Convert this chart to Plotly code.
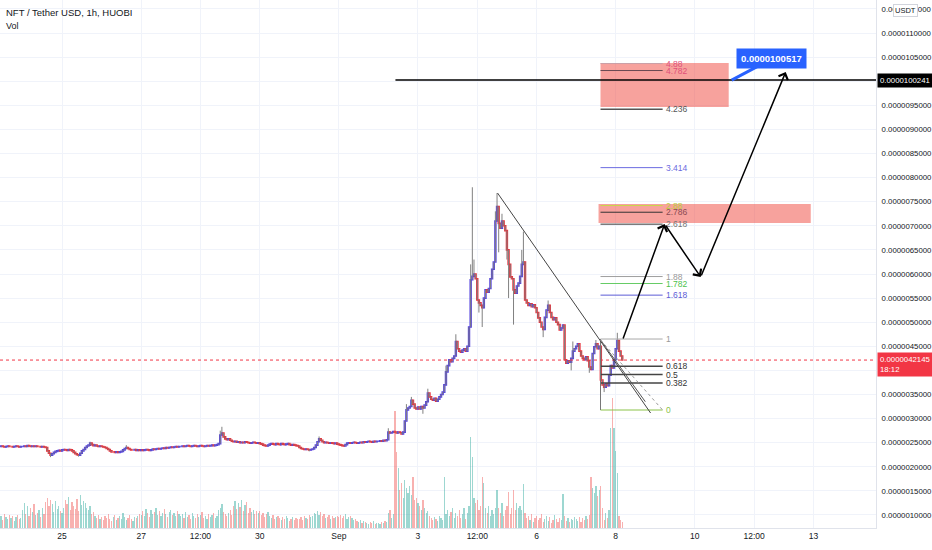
import plotly.graph_objects as go
import pandas as pd

# ---------------- DATA ----------------
start_time = "2021-08-23 10:00"
close_aug23 = [2.42, 2.43, 2.42, 2.41, 2.42, 2.43, 2.42, 2.42, 2.41, 2.42, 2.43, 2.42, 2.41, 2.42]
close_aug24 = [2.42, 2.43, 2.42, 2.44, 2.43, 2.42, 2.43, 2.42, 2.43, 2.42, 2.42, 2.41, 2.42, 2.41, 2.40, 2.33, 2.28, 2.24, 2.27, 2.30, 2.32, 2.33, 2.34, 2.33]
close_aug25 = [2.35, 2.36, 2.35, 2.34, 2.36, 2.35, 2.33, 2.30, 2.27, 2.25, 2.24, 2.28, 2.33, 2.36, 2.40, 2.43, 2.45, 2.49, 2.46, 2.44, 2.45, 2.43, 2.42, 2.43]
close_aug26 = [2.42, 2.41, 2.40, 2.38, 2.36, 2.33, 2.31, 2.31, 2.30, 2.31, 2.30, 2.31, 2.32, 2.35, 2.38, 2.40, 2.38, 2.36, 2.35, 2.35, 2.36, 2.34, 2.35, 2.34]
close_aug27 = [2.35, 2.34, 2.35, 2.36, 2.35, 2.34, 2.35, 2.37, 2.36, 2.37, 2.38, 2.37, 2.38, 2.39, 2.38, 2.40, 2.39, 2.40, 2.41, 2.40, 2.41, 2.42, 2.41, 2.42]
close_aug28 = [2.42, 2.43, 2.42, 2.43, 2.44, 2.43, 2.42, 2.43, 2.44, 2.43, 2.42, 2.43, 2.44, 2.43, 2.42, 2.43, 2.44, 2.43, 2.44, 2.45, 2.44, 2.45, 2.46, 2.48]
close_aug29 = [2.66, 2.70, 2.62, 2.58, 2.56, 2.58, 2.55, 2.53, 2.52, 2.53, 2.51, 2.52, 2.50, 2.51, 2.50, 2.52, 2.51, 2.50, 2.49, 2.50, 2.51, 2.50, 2.49, 2.50]
close_aug30 = [2.48, 2.47, 2.45, 2.44, 2.43, 2.45, 2.47, 2.48, 2.47, 2.46, 2.48, 2.47, 2.46, 2.48, 2.47, 2.46, 2.47, 2.48, 2.46, 2.45, 2.46, 2.45, 2.44, 2.43]
close_aug31 = [2.40, 2.38, 2.37, 2.36, 2.37, 2.36, 2.35, 2.36, 2.37, 2.40, 2.45, 2.52, 2.58, 2.55, 2.52, 2.50, 2.51, 2.50, 2.49, 2.50, 2.49, 2.48, 2.49, 2.47]
close_sep01 = [2.46, 2.45, 2.44, 2.43, 2.46, 2.49, 2.50, 2.49, 2.50, 2.51, 2.50, 2.49, 2.50, 2.51, 2.50, 2.52, 2.51, 2.52, 2.53, 2.52, 2.51, 2.53, 2.52, 2.53]
close_sep02 = [2.53, 2.54, 2.53, 2.55, 2.54, 2.56, 2.72, 2.70, 2.71, 2.73, 2.72, 2.70, 2.72, 2.71, 2.68, 2.72, 2.95, 3.18, 3.22, 3.25, 3.38, 3.30, 3.22, 3.20]
close_sep03 = [3.24, 3.20, 3.25, 3.22, 3.28, 3.35, 3.53, 3.45, 3.40, 3.38, 3.42, 3.36, 3.40, 3.45, 3.50, 3.55, 3.70, 3.97, 4.10, 4.22, 4.18, 4.25, 4.30, 4.60]
close_sep04 = [4.45, 4.40, 4.38, 4.42, 4.45, 4.40, 4.50, 4.90, 5.88, 5.95, 6.00, 5.90, 5.46, 5.40, 5.35, 5.30, 5.50, 5.67, 5.62, 5.70, 5.90, 6.10, 6.25, 7.10]
close_sep05 = [7.40, 7.05, 6.95, 7.10, 7.00, 6.90, 6.50, 6.20, 5.94, 5.90, 5.67, 5.60, 5.75, 5.81, 5.95, 6.20, 6.25, 5.46, 5.40, 5.35, 5.38, 5.32, 5.36, 5.30]
close_sep06 = [5.20, 5.09, 5.00, 4.90, 4.85, 5.10, 5.25, 5.35, 5.20, 5.10, 5.05, 5.09, 5.00, 4.95, 4.84, 4.88, 4.94, 4.22, 4.15, 4.20, 4.17, 4.25, 4.40, 4.45]
close_sep07 = [4.50, 4.55, 4.40, 4.30, 4.25, 4.22, 4.28, 4.20, 4.07, 4.02, 4.35, 4.49, 4.55, 4.45, 4.50, 3.80, 3.70, 3.65, 3.72, 3.68, 3.90, 4.10, 4.05, 4.22]
close_sep08 = [4.45, 4.62, 4.40, 4.30, 4.2145]

vol_aug23 = [10, 12, 8, 14, 11, 9, 13, 10, 12, 7, 11, 13, 9, 10]
vol_aug24 = [18, 25, 14, 22, 12, 20, 16, 24, 13, 15, 18, 11, 20, 14, 26, 30, 22, 28, 24, 16, 27, 19, 22, 17]
vol_aug25 = [15, 20, 28, 24, 31, 18, 26, 22, 19, 29, 17, 33, 23, 27, 25, 20, 18, 22, 14, 16, 12, 10, 13, 9]
vol_aug26 = [11, 8, 12, 10, 14, 9, 7, 11, 13, 8, 10, 12, 9, 15, 11, 8, 10, 13, 9, 7, 11, 10, 12, 14]
vol_aug27 = [13, 17, 12, 19, 15, 11, 18, 14, 16, 20, 13, 17, 12, 15, 19, 14, 11, 16, 18, 13, 15, 12, 17, 14]
vol_aug28 = [12, 14, 10, 16, 11, 13, 9, 15, 12, 10, 14, 11, 13, 16, 10, 12, 9, 14, 11, 13, 15, 10, 12, 18]
vol_aug29 = [20, 24, 16, 14, 12, 15, 18, 13, 22, 27, 19, 25, 21, 28, 17, 23, 26, 15, 20, 16, 18, 14, 17, 15]
vol_aug30 = [17, 13, 15, 11, 14, 16, 12, 10, 13, 9, 11, 12, 10, 8, 11, 9, 12, 10, 7, 9, 11, 8, 10, 9]
vol_aug31 = [9, 11, 8, 12, 10, 9, 13, 11, 12, 15, 14, 17, 13, 16, 12, 14, 10, 11, 13, 9, 12, 10, 11, 12]
vol_sep01 = [11, 13, 10, 12, 14, 9, 11, 12, 10, 8, 9, 7, 6, 8, 5, 7, 6, 5, 4, 6, 5, 7, 4, 5]
vol_sep02 = [5, 4, 6, 5, 7, 6, 15, 18, 10, 14, 117, 76, 60, 38, 45, 30, 48, 40, 35, 42, 33, 51, 28, 30]
vol_sep03 = [25, 22, 18, 28, 20, 15, 17, 12, 10, 8, 11, 9, 7, 12, 10, 8, 51, 14, 18, 12, 16, 20, 10, 15]
vol_sep04 = [12, 18, 10, 14, 20, 9, 15, 22, 91, 71, 30, 25, 28, 18, 22, 51, 45, 20, 15, 22, 12, 18, 14, 20]
vol_sep05 = [38, 20, 15, 25, 12, 18, 22, 36, 14, 20, 38, 18, 25, 20, 22, 18, 44, 15, 10, 12, 8, 14, 6, 10]
vol_sep06 = [12, 8, 10, 14, 6, 9, 12, 7, 11, 5, 8, 13, 9, 6, 10, 8, 34, 12, 7, 10, 6, 9, 8, 11]
vol_sep07 = [9, 7, 11, 6, 10, 8, 12, 9, 13, 51, 40, 35, 42, 32, 38, 42, 20, 8, 15, 10, 18, 100, 130, 100]
vol_sep08 = [77, 55, 12, 8, 6]

wick_high = {
    "2021-08-25 17:00": 2.52, "2021-08-26 15:00": 2.45, "2021-08-29 00:00": 2.75,
    "2021-08-29 01:00": 2.83, "2021-08-31 12:00": 2.63, "2021-09-02 06:00": 2.80,
    "2021-09-02 17:00": 3.30, "2021-09-02 20:00": 3.45, "2021-09-03 06:00": 3.62,
    "2021-09-03 17:00": 4.10, "2021-09-03 23:00": 4.75, "2021-09-04 08:00": 6.20,
    "2021-09-04 09:00": 7.80, "2021-09-04 10:00": 6.30, "2021-09-04 23:00": 7.30,
    "2021-09-05 00:00": 7.68, "2021-09-05 01:00": 7.30, "2021-09-05 03:00": 7.25,
    "2021-09-05 15:00": 6.50, "2021-09-05 16:00": 6.88, "2021-09-06 07:00": 5.45,
    "2021-09-06 22:00": 4.60, "2021-09-07 12:00": 4.63, "2021-09-08 01:00": 4.78,
}
wick_low = {
    "2021-08-24 17:00": 2.20, "2021-08-25 10:00": 2.21, "2021-08-31 06:00": 2.32,
    "2021-09-03 03:00": 3.10, "2021-09-04 13:00": 5.20, "2021-09-04 15:00": 4.90,
    "2021-09-05 01:00": 6.45, "2021-09-05 06:00": 6.30, "2021-09-05 07:00": 5.50,
    "2021-09-05 10:00": 4.95, "2021-09-06 04:00": 4.69, "2021-09-06 21:00": 4.00,
    "2021-09-07 08:00": 3.95, "2021-09-07 17:00": 3.55,
}

price_unit = 1e-6
y_ticks = [1.0, 1.5, 2.0, 2.5, 3.0, 3.5, 4.0, 4.5, 5.0, 5.5, 6.0, 6.5, 7.0, 7.5, 8.0,
           8.5, 9.0, 9.5, 10.0, 10.5, 11.0, 11.5]
x_tick_vals = ["2021-08-25", "2021-08-27", "2021-08-28 12:00", "2021-08-30", "2021-09-01",
               "2021-09-03", "2021-09-04 12:00", "2021-09-06", "2021-09-08", "2021-09-10",
               "2021-09-11 12:00", "2021-09-13"]
x_tick_text = ["25", "27", "12:00", "30", "Sep", "3", "12:00", "6", "8", "10", "12:00", "13"]
x_range = ["2021-08-23 10:20", "2021-09-14 14:00"]
y_range = [0.730, 11.685]

# drawings
hline_start, hline_price = "2021-09-02 10:20", 10.0241
target_price_text = "0.0000100517"
target_box_at = ("2021-09-11 22:40", 10.461)
target_tail_at = ("2021-09-10 22:24", 10.0241)
zone1 = ("2021-09-07 14:48", "2021-09-10 20:36", 9.465, 10.378)
zone2 = ("2021-09-07 13:36", "2021-09-12 22:24", 7.058, 7.452)
fib_t0, fib_t1, fib_label_t = "2021-09-07 14:48", "2021-09-09 04:30", "2021-09-09 05:30"
fib_p0, fib_p1 = 3.178, 4.651
fib_levels = [0, 0.382, 0.5, 0.618, 1, 1.618, 1.782, 1.88, 2.618, 2.786, 2.88, 3.414, 4.236, 4.782, 4.88]
fib_text = ["0", "0.382", "0.5", "0.618", "1", "1.618", "1.782", "1.88", "2.618", "2.786", "2.88", "3.414", "4.236", "4.782", "4.88"]
fib_line_col = ["#8bc34a", "#444444", "#444444", "#444444", "#a8a8a8", "#5c5cd6", "#66cc66", "#9e9e9e",
                "#333333", "#333333", "#c8d84a", "#6b6be0", "#555555", "#6a4a52", "#c9a0a8"]
fib_text_col = ["#8bc34a", "#333333", "#333333", "#333333", "#999999", "#5c5cd6", "#4cc24c", "#999999",
                "#777777", "#8b4a52", "#b8cc3a", "#6b6be0", "#555555", "#e0507a", "#e0507a"]
trend_t = ["2021-09-05 00:18", "2021-09-08 21:12"]
trend_p = [7.680, 3.116]
trend2_t = ["2021-09-07 14:48", "2021-09-08 18:00"]
trend2_p = [4.631, 3.35]
dotted_t = ["2021-09-07 14:48", "2021-09-09 04:30"]
dotted_p = [4.631, 3.178]
path_t = ["2021-09-08 04:12", "2021-09-09 05:42", "2021-09-10 03:36", "2021-09-12 07:12"]
path_p = [4.631, 7.037, 5.938, 10.191]
last_price = 4.2145
last_text = "0.0000042145<br>18:12"
hline_text = "0.0000100241"

# ---------------- BUILD ----------------
closes = (close_aug23 + close_aug24 + close_aug25 + close_aug26 + close_aug27 + close_aug28 +
          close_aug29 + close_aug30 + close_aug31 + close_sep01 + close_sep02 + close_sep03 +
          close_sep04 + close_sep05 + close_sep06 + close_sep07 + close_sep08)
vols = (vol_aug23 + vol_aug24 + vol_aug25 + vol_aug26 + vol_aug27 + vol_aug28 + vol_aug29 +
        vol_aug30 + vol_aug31 + vol_sep01 + vol_sep02 + vol_sep03 + vol_sep04 + vol_sep05 +
        vol_sep06 + vol_sep07 + vol_sep08)
times = pd.date_range(start_time, periods=len(closes), freq="h")
opens = [closes[0]] + closes[:-1]
tkeys = [t.strftime("%Y-%m-%d %H:%M") for t in times]
highs = [max(o, c, wick_high.get(k, 0)) for o, c, k in zip(opens, closes, tkeys)]
lows = [min(o, c, wick_low.get(k, 99)) for o, c, k in zip(opens, closes, tkeys)]
body_hi = [max(o, c) for o, c in zip(opens, closes)]
body_lo = [min(o, c) for o, c in zip(opens, closes)]
U = price_unit

UP, DN = "#5442e0", "#e8323c"
FONT = "Liberation Sans, Arial, sans-serif"

fig = go.Figure()

vol_col = ["rgba(38,166,154,0.45)" if c >= o else "rgba(239,83,80,0.45)" for o, c in zip(opens, closes)]
fig.add_trace(go.Bar(x=times, y=vols, marker=dict(color=vol_col, line=dict(width=0)),
                     width=3600000 * 0.75, yaxis="y2", hoverinfo="skip"))

wx, wy = [], []
for t, h, l in zip(times, highs, lows):
    wx += [t, t, None]
    wy += [l * U, h * U, None]
fig.add_trace(go.Scatter(x=wx, y=wy, mode="lines", line=dict(color="#808080", width=1),
                         hoverinfo="skip"))

fig.add_trace(go.Candlestick(x=times, open=[v * U for v in opens], close=[v * U for v in closes],
                             high=[v * U for v in body_hi], low=[v * U for v in body_lo],
                             increasing=dict(line=dict(color=UP, width=1.6), fillcolor=UP),
                             decreasing=dict(line=dict(color=DN, width=1.6), fillcolor=DN),
                             whiskerwidth=0, hoverinfo="skip"))

shapes = []
shapes.append(dict(type="line", xref="paper", x0=0, x1=1, yref="y", y0=last_price * U, y1=last_price * U,
                   line=dict(color="#f23645", width=1, dash="dot")))
for z in (zone1, zone2):
    shapes.append(dict(type="rect", xref="x", yref="y", x0=z[0], x1=z[1], y0=z[2] * U, y1=z[3] * U,
                       fillcolor="rgba(240,70,60,0.5)", line=dict(width=0)))
shapes.append(dict(type="line", xref="x", yref="y", x0=hline_start, x1=x_range[1],
                   y0=hline_price * U, y1=hline_price * U, line=dict(color="#000000", width=1.5)))
for lv, lc in zip(fib_levels, fib_line_col):
    p = (fib_p0 + lv * (fib_p1 - fib_p0)) * U
    w = 1.5 if lv in (0.382, 0.5, 0.618, 4.236) else 1
    shapes.append(dict(type="line", xref="x", yref="y", x0=fib_t0, x1=fib_t1, y0=p, y1=p,
                       line=dict(color=lc, width=w)))
shapes.append(dict(type="line", xref="x", yref="y", x0=fib_t0, x1=fib_t0, y0=fib_p0 * U, y1=fib_p1 * U,
                   line=dict(color="#777777", width=1)))
shapes.append(dict(type="line", xref="x", yref="y", x0=trend_t[0], x1=trend_t[1],
                   y0=trend_p[0] * U, y1=trend_p[1] * U, line=dict(color="#444444", width=1)))
shapes.append(dict(type="line", xref="x", yref="y", x0=trend2_t[0], x1=trend2_t[1],
                   y0=trend2_p[0] * U, y1=trend2_p[1] * U, line=dict(color="#555555", width=1)))
shapes.append(dict(type="line", xref="x", yref="y", x0=dotted_t[0], x1=dotted_t[1],
                   y0=dotted_p[0] * U, y1=dotted_p[1] * U, line=dict(color="#999999", width=1, dash="dot")))

annotations = []
for lv, txt, tc in zip(fib_levels, fib_text, fib_text_col):
    p = (fib_p0 + lv * (fib_p1 - fib_p0)) * U
    annotations.append(dict(x=fib_label_t, y=p, xref="x", yref="y", text=txt, showarrow=False,
                            xanchor="left", yanchor="middle", font=dict(family=FONT, size=8.5, color=tc)))
for i in range(len(path_t) - 1):
    annotations.append(dict(x=path_t[i + 1], y=path_p[i + 1] * U, ax=path_t[i], ay=path_p[i] * U,
                            xref="x", yref="y", axref="x", ayref="y", text="", showarrow=True,
                            arrowhead=4, arrowsize=1.3, arrowwidth=1.5, arrowcolor="#000000", standoff=0))
annotations.append(dict(x=target_tail_at[0], y=target_tail_at[1] * U, xref="x", yref="y",
                        ax=target_box_at[0], ay=target_box_at[1] * U, axref="x", ayref="y",
                        text="", showarrow=True, arrowhead=0, arrowwidth=3, arrowcolor="#2962ff"))
annotations.append(dict(x=target_box_at[0], y=target_box_at[1] * U, xref="x", yref="y",
                        text="<b>" + target_price_text + "</b>", showarrow=False,
                        bgcolor="#2962ff", borderpad=4, font=dict(family=FONT, size=9.5, color="white")))
annotations.append(dict(x=1, y=hline_price * U, xref="paper", yref="y", text=hline_text, showarrow=False,
                        xanchor="left", yanchor="middle", xshift=1, bgcolor="#000000", borderpad=2,
                        font=dict(family=FONT, size=7.8, color="white")))
annotations.append(dict(x=1, y=last_price * U, xref="paper", yref="y", text=last_text, showarrow=False,
                        xanchor="left", yanchor="top", yshift=8, xshift=1, bgcolor="#f23645", borderpad=2,
                        align="left", font=dict(family=FONT, size=7.8, color="white")))
annotations.append(dict(x=1, y=1, xref="paper", yref="paper", text="USDT", showarrow=False,
                        xanchor="left", yanchor="top", xshift=17, yshift=-4, bgcolor="white",
                        bordercolor="#d1d4dc", borderwidth=1, borderpad=1,
                        font=dict(family=FONT, size=7.5, color="#131722")))
annotations.append(dict(x=0, y=1, xref="paper", yref="paper", text="NFT / Tether USD, 1h, HUOBI",
                        showarrow=False, xanchor="left", yanchor="top", xshift=4, yshift=-5,
                        font=dict(family=FONT, size=9.5, color="#131722")))
annotations.append(dict(x=0, y=1, xref="paper", yref="paper", text="Vol",
                        showarrow=False, xanchor="left", yanchor="top", xshift=4, yshift=-19,
                        font=dict(family=FONT, size=9, color="#131722")))

fig.update_layout(
    width=932, height=550, margin=dict(l=0, r=56, t=0, b=22),
    paper_bgcolor="white", plot_bgcolor="white", showlegend=False,
    shapes=shapes, annotations=annotations, bargap=0,
    xaxis=dict(type="date", range=x_range, tickvals=x_tick_vals, ticktext=x_tick_text,
               showgrid=True, gridcolor="#f0f3fa", rangeslider=dict(visible=False),
               showline=True, linecolor="#e0e3eb", ticks="", zeroline=False,
               tickfont=dict(family=FONT, size=8.5, color="#131722")),
    yaxis=dict(side="right", range=[y_range[0] * U, y_range[1] * U],
               tickvals=[v * U for v in y_ticks], tickformat=".10f",
               showgrid=True, gridcolor="#f0f3fa", showline=True, linecolor="#e0e3eb",
               ticks="outside", ticklen=3, tickcolor="rgba(0,0,0,0)", zeroline=False,
               tickfont=dict(family=FONT, size=7.8, color="#131722")),
    yaxis2=dict(overlaying="y", side="right", range=[0, 528], visible=False, showgrid=False),
)

fig.write_html("out.html", config={"displayModeBar": False},
               post_script="document.body.style.margin='0';document.body.style.padding='0';")
